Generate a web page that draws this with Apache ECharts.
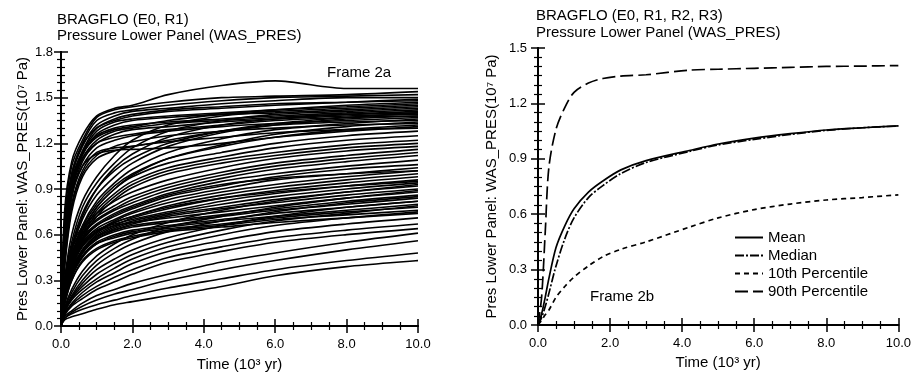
<!DOCTYPE html>
<html>
<head>
<meta charset="utf-8">
<script src="https://cdn.jsdelivr.net/npm/echarts@6/dist/echarts.min.js"></script>
<style>
html,body{margin:0;padding:0;background:#fff;}
#chart{width:914px;height:377px;}
</style>
</head>
<body>
<div id="chart"></div>
<script>
// ---------- Frame 2a: individual realizations (time in 10^3 yr, pressure in 10^7 Pa)
var timesA = [0, 0.1, 0.3, 0.6, 1, 1.5, 2, 3, 4.5, 6, 8, 10];
var fastCurves = [
  [0, 0.75, 1.08, 1.25, 1.38, 1.43, 1.45, 1.52, 1.58, 1.61, 1.56, 1.56],
  [0, 0.70, 1.05, 1.22, 1.37, 1.42, 1.44, 1.47, 1.50, 1.51, 1.52, 1.54],
  [0, 0.65, 1.00, 1.20, 1.35, 1.40, 1.42, 1.45, 1.48, 1.50, 1.51, 1.52],
  [0, 0.60, 0.98, 1.18, 1.32, 1.38, 1.41, 1.43, 1.46, 1.48, 1.50, 1.50],
  [0, 0.62, 1.00, 1.19, 1.30, 1.35, 1.38, 1.41, 1.43, 1.45, 1.47, 1.49],
  [0, 0.55, 0.95, 1.15, 1.30, 1.36, 1.39, 1.42, 1.44, 1.46, 1.47, 1.48],
  [0, 0.55, 0.94, 1.13, 1.24, 1.29, 1.31, 1.35, 1.39, 1.42, 1.45, 1.47],
  [0, 0.58, 0.96, 1.14, 1.28, 1.34, 1.36, 1.38, 1.40, 1.42, 1.44, 1.46],
  [0, 0.50, 0.90, 1.12, 1.26, 1.32, 1.35, 1.37, 1.39, 1.40, 1.42, 1.44],
  [0, 0.52, 0.92, 1.13, 1.25, 1.30, 1.32, 1.34, 1.36, 1.38, 1.40, 1.42],
  [0, 0.48, 0.88, 1.10, 1.22, 1.28, 1.30, 1.33, 1.35, 1.37, 1.39, 1.40],
  [0, 0.45, 0.85, 1.08, 1.20, 1.26, 1.29, 1.31, 1.34, 1.36, 1.38, 1.39],
  [0, 0.50, 0.90, 1.10, 1.20, 1.24, 1.26, 1.29, 1.32, 1.35, 1.37, 1.38],
  [0, 0.45, 0.85, 1.05, 1.17, 1.22, 1.25, 1.28, 1.31, 1.33, 1.35, 1.37],
  [0, 0.42, 0.80, 1.02, 1.14, 1.17, 1.18, 1.22, 1.28, 1.32, 1.34, 1.35],
  [0, 0.40, 0.78, 1.00, 1.12, 1.18, 1.21, 1.25, 1.28, 1.30, 1.32, 1.33],
  [0, 0.45, 0.85, 1.05, 1.13, 1.155, 1.16, 1.17, 1.20, 1.24, 1.28, 1.31],
  [0, 0.38, 0.75, 0.98, 1.10, 1.15, 1.18, 1.21, 1.24, 1.27, 1.29, 1.30]
];
var moderateCurves = [
  [0, 0.30, 0.60, 0.82, 0.98, 1.12, 1.22, 1.32, 1.38, 1.41, 1.43, 1.45],
  [0, 0.28, 0.55, 0.78, 0.94, 1.07, 1.17, 1.28, 1.35, 1.39, 1.41, 1.43],
  [0, 0.25, 0.50, 0.72, 0.90, 1.04, 1.13, 1.24, 1.32, 1.36, 1.39, 1.41],
  [0, 0.26, 0.52, 0.74, 0.90, 1.02, 1.10, 1.20, 1.28, 1.33, 1.37, 1.40],
  [0, 0.25, 0.50, 0.70, 0.86, 0.98, 1.07, 1.18, 1.27, 1.32, 1.36, 1.38],
  [0, 0.22, 0.45, 0.66, 0.82, 0.94, 1.03, 1.14, 1.23, 1.29, 1.33, 1.36],
  [0, 0.20, 0.43, 0.63, 0.78, 0.90, 0.99, 1.10, 1.19, 1.26, 1.31, 1.34],
  [0, 0.22, 0.45, 0.65, 0.80, 0.92, 1.00, 1.10, 1.18, 1.24, 1.29, 1.32],
  [0, 0.20, 0.42, 0.62, 0.78, 0.90, 0.98, 1.07, 1.14, 1.20, 1.25, 1.28],
  [0, 0.20, 0.40, 0.60, 0.76, 0.87, 0.95, 1.04, 1.11, 1.17, 1.22, 1.25],
  [0, 0.18, 0.38, 0.58, 0.74, 0.85, 0.93, 1.02, 1.09, 1.14, 1.19, 1.22],
  [0, 0.18, 0.38, 0.57, 0.72, 0.83, 0.91, 1.00, 1.07, 1.12, 1.17, 1.20]
];
var midCurves = [
  [0, 0.30, 0.52, 0.65, 0.74, 0.82, 0.88, 0.96, 1.04, 1.10, 1.15, 1.18],
  [0, 0.28, 0.50, 0.63, 0.72, 0.79, 0.85, 0.93, 1.01, 1.07, 1.12, 1.16],
  [0, 0.26, 0.48, 0.61, 0.70, 0.77, 0.83, 0.91, 0.99, 1.05, 1.10, 1.14],
  [0, 0.25, 0.46, 0.60, 0.69, 0.76, 0.81, 0.89, 0.97, 1.03, 1.08, 1.12],
  [0, 0.24, 0.45, 0.58, 0.67, 0.74, 0.79, 0.87, 0.95, 1.00, 1.05, 1.09],
  [0, 0.22, 0.42, 0.56, 0.66, 0.72, 0.77, 0.85, 0.92, 0.98, 1.03, 1.06],
  [0, 0.22, 0.42, 0.55, 0.64, 0.70, 0.75, 0.83, 0.90, 0.96, 1.00, 1.04],
  [0, 0.24, 0.44, 0.57, 0.66, 0.73, 0.78, 0.86, 0.93, 0.97, 1.00, 1.02],
  [0, 0.20, 0.40, 0.53, 0.62, 0.69, 0.74, 0.81, 0.88, 0.93, 0.98, 1.02],
  [0, 0.20, 0.38, 0.52, 0.61, 0.68, 0.72, 0.79, 0.86, 0.91, 0.96, 1.00],
  [0, 0.19, 0.37, 0.50, 0.60, 0.66, 0.71, 0.77, 0.84, 0.89, 0.94, 0.98],
  [0, 0.20, 0.40, 0.55, 0.63, 0.67, 0.70, 0.75, 0.82, 0.87, 0.92, 0.96],
  [0, 0.21, 0.40, 0.53, 0.62, 0.68, 0.72, 0.78, 0.84, 0.88, 0.92, 0.95],
  [0, 0.18, 0.36, 0.50, 0.59, 0.65, 0.69, 0.74, 0.80, 0.85, 0.90, 0.94],
  [0, 0.18, 0.36, 0.49, 0.58, 0.64, 0.68, 0.73, 0.78, 0.83, 0.88, 0.92],
  [0, 0.17, 0.34, 0.48, 0.57, 0.63, 0.67, 0.72, 0.77, 0.81, 0.86, 0.90],
  [0, 0.20, 0.40, 0.54, 0.62, 0.66, 0.68, 0.71, 0.75, 0.79, 0.84, 0.88],
  [0, 0.18, 0.37, 0.50, 0.59, 0.63, 0.66, 0.69, 0.73, 0.77, 0.82, 0.86],
  [0, 0.17, 0.35, 0.48, 0.57, 0.62, 0.65, 0.68, 0.72, 0.76, 0.80, 0.84],
  [0, 0.16, 0.33, 0.46, 0.55, 0.60, 0.63, 0.66, 0.70, 0.74, 0.78, 0.82],
  [0, 0.15, 0.32, 0.45, 0.54, 0.59, 0.62, 0.65, 0.69, 0.72, 0.76, 0.80],
  [0, 0.16, 0.33, 0.46, 0.54, 0.58, 0.61, 0.64, 0.67, 0.71, 0.75, 0.78],
  [0, 0.15, 0.30, 0.43, 0.51, 0.56, 0.59, 0.63, 0.66, 0.70, 0.73, 0.76],
  [0, 0.14, 0.30, 0.42, 0.50, 0.55, 0.58, 0.62, 0.65, 0.68, 0.71, 0.74]
];
var slowCurves = [
  [0, 0.12, 0.24, 0.36, 0.46, 0.54, 0.60, 0.68, 0.76, 0.82, 0.88, 0.93],
  [0, 0.11, 0.22, 0.33, 0.43, 0.51, 0.57, 0.65, 0.72, 0.78, 0.84, 0.89],
  [0, 0.10, 0.20, 0.30, 0.40, 0.48, 0.54, 0.62, 0.69, 0.75, 0.81, 0.85],
  [0, 0.10, 0.19, 0.28, 0.37, 0.44, 0.50, 0.58, 0.66, 0.72, 0.78, 0.82],
  [0, 0.09, 0.18, 0.26, 0.34, 0.41, 0.47, 0.55, 0.63, 0.69, 0.74, 0.79],
  [0, 0.09, 0.17, 0.24, 0.31, 0.38, 0.44, 0.52, 0.60, 0.66, 0.71, 0.75],
  [0, 0.08, 0.15, 0.22, 0.29, 0.35, 0.41, 0.49, 0.56, 0.62, 0.67, 0.71],
  [0, 0.08, 0.14, 0.20, 0.26, 0.32, 0.37, 0.45, 0.52, 0.58, 0.63, 0.67],
  [0, 0.07, 0.13, 0.18, 0.24, 0.29, 0.34, 0.42, 0.49, 0.55, 0.60, 0.64],
  [0, 0.06, 0.10, 0.15, 0.20, 0.24, 0.28, 0.34, 0.42, 0.48, 0.55, 0.61],
  [0, 0.05, 0.09, 0.13, 0.17, 0.21, 0.24, 0.30, 0.37, 0.43, 0.50, 0.56],
  [0, 0.05, 0.08, 0.11, 0.14, 0.17, 0.20, 0.25, 0.31, 0.37, 0.43, 0.48],
  [0, 0.04, 0.06, 0.08, 0.11, 0.14, 0.16, 0.20, 0.26, 0.33, 0.39, 0.43]
];

// ---------- Frame 2b: statistics
var timesB = [0, 0.1, 0.2, 0.3, 0.5, 0.75, 1.0, 1.4, 1.8, 2.3, 3.0, 4.2, 5.0, 6.0, 7.0, 8.0, 9.0, 10.0];
var meanVals   = [0, 0.06, 0.15, 0.25, 0.42, 0.54, 0.63, 0.72, 0.78, 0.84, 0.89, 0.945, 0.98, 1.012, 1.036, 1.056, 1.068, 1.078];
var medianVals = [0, 0.04, 0.10, 0.17, 0.32, 0.47, 0.58, 0.69, 0.755, 0.82, 0.88, 0.94, 0.975, 1.005, 1.032, 1.054, 1.068, 1.078];
var p10Vals    = [0, 0.025, 0.055, 0.08, 0.15, 0.21, 0.26, 0.32, 0.37, 0.41, 0.45, 0.53, 0.58, 0.625, 0.655, 0.677, 0.69, 0.705];
var p90Vals    = [0, 0.15, 0.50, 0.85, 1.06, 1.18, 1.26, 1.31, 1.335, 1.348, 1.355, 1.38, 1.385, 1.39, 1.395, 1.40, 1.402, 1.405];

var xTickLabels = ['0.0', '2.0', '4.0', '6.0', '8.0', '10.0'];

var FONT = '"Liberation Sans", Arial, Helvetica, sans-serif';
function pairs(ts, vs) { return ts.map(function (t, i) { return [t, vs[i]]; }); }

var chart = echarts.init(document.getElementById('chart'), null, { renderer: 'canvas' });

var grids = [
  { left: 61, top: 52, width: 357, height: 276 },
  { left: 538, top: 48, width: 361, height: 277 }
];

function tickFmt(v) { return v.toFixed(1); }

function xAx(gi, pos, labels, nameGap) {
  return {
    type: 'value', gridIndex: gi, position: pos, min: 0, max: 10, interval: 2,
    axisLine: { show: true, lineStyle: { color: '#000', width: 2 } },
    axisTick: { show: true, inside: true, length: 7, lineStyle: { color: '#000', width: 1.5 } },
    minorTick: { show: true, splitNumber: 4, length: 4, lineStyle: { color: '#000', width: 1.2 } },
    splitLine: { show: false },
    axisLabel: { show: labels, margin: 12, fontSize: 13, color: '#000', fontFamily: FONT,
      formatter: function (v) { return xTickLabels[Math.round(v / 2)]; } },
    name: labels ? 'Time (10³ yr)' : '',
    nameLocation: 'middle', nameGap: nameGap,
    nameTextStyle: { fontSize: 15, color: '#000', fontFamily: FONT }
  };
}
function yAx(gi, pos, max, labels, nameGap, margin) {
  return {
    type: 'value', gridIndex: gi, position: pos, min: 0, max: max, interval: 0.3,
    axisLine: { show: true, lineStyle: { color: '#000', width: 2 } },
    axisTick: { show: true, inside: true, length: 7, lineStyle: { color: '#000', width: 1.5 } },
    minorTick: { show: true, splitNumber: 6, length: 4, lineStyle: { color: '#000', width: 1.2 } },
    splitLine: { show: false },
    axisLabel: { show: labels, margin: margin, fontSize: 13, color: '#000', fontFamily: FONT, formatter: tickFmt },
    name: labels ? 'Pres Lower Panel: WAS_PRES(10⁷ Pa)' : '',
    nameLocation: 'middle', nameGap: nameGap, nameRotate: 90,
    nameTextStyle: { fontSize: 15, color: '#000', fontFamily: FONT }
  };
}

var series = [];
var allA = fastCurves.concat(moderateCurves, midCurves, slowCurves);
allA.forEach(function (c, i) {
  series.push({
    type: 'line', xAxisIndex: 0, yAxisIndex: 0, data: pairs(timesA, c),
    symbol: 'none', smooth: 0.3, silent: true,
    lineStyle: { color: '#000', width: 1.6 }, z: 2
  });
});

var statDefs = [
  { name: 'Mean', vals: meanVals, type: 'solid' },
  { name: 'Median', vals: medianVals, type: [9, 2, 2, 2] },
  { name: '10th Percentile', vals: p10Vals, type: [5, 4] },
  { name: '90th Percentile', vals: p90Vals, type: [13, 5] }
];
statDefs.forEach(function (s) {
  series.push({
    name: s.name, type: 'line', xAxisIndex: 2, yAxisIndex: 2,
    data: pairs(timesB, s.vals), symbol: 'none', smooth: 0.3,
    itemStyle: { color: '#000' },
    lineStyle: { color: '#000', width: 1.7, type: s.type }
  });
});

var option = {
  backgroundColor: '#fff',
  animation: false,
  grid: grids,
  xAxis: [xAx(0, 'bottom', true, 31), xAx(0, 'top', false, 0), xAx(1, 'bottom', true, 23), xAx(1, 'top', false, 0)],
  yAxis: [yAx(0, 'left', 1.8, true, 31, 8), yAx(0, 'right', 1.8, false, 0, 8), yAx(1, 'left', 1.5, true, 39, 11), yAx(1, 'right', 1.5, false, 0, 11)],
  legend: {
    data: ['Mean', 'Median', '10th Percentile', '90th Percentile'],
    orient: 'vertical', left: 729, top: 225, itemWidth: 28, itemHeight: 12, itemGap: 3,
    itemStyle: { opacity: 0 },
    textStyle: { fontSize: 15, color: '#000', fontFamily: FONT },
    selectedMode: false
  },
  graphic: [
    { type: 'text', left: 57, top: 12, style: { text: 'BRAGFLO (E0, R1)', font: '15px ' + FONT, fill: '#000' } },
    { type: 'text', left: 57, top: 28, style: { text: 'Pressure Lower Panel (WAS_PRES)', font: '15px ' + FONT, fill: '#000' } },
    { type: 'text', left: 536, top: 8, style: { text: 'BRAGFLO (E0, R1, R2, R3)', font: '15px ' + FONT, fill: '#000' } },
    { type: 'text', left: 536, top: 25, style: { text: 'Pressure Lower Panel (WAS_PRES)', font: '15px ' + FONT, fill: '#000' } },
    { type: 'text', left: 327, top: 65, style: { text: 'Frame 2a', font: '15px ' + FONT, fill: '#000' } },
    { type: 'text', left: 590, top: 289, style: { text: 'Frame 2b', font: '15px ' + FONT, fill: '#000' } }
  ],
  series: series
};
chart.setOption(option);
</script>
</body>
</html>
